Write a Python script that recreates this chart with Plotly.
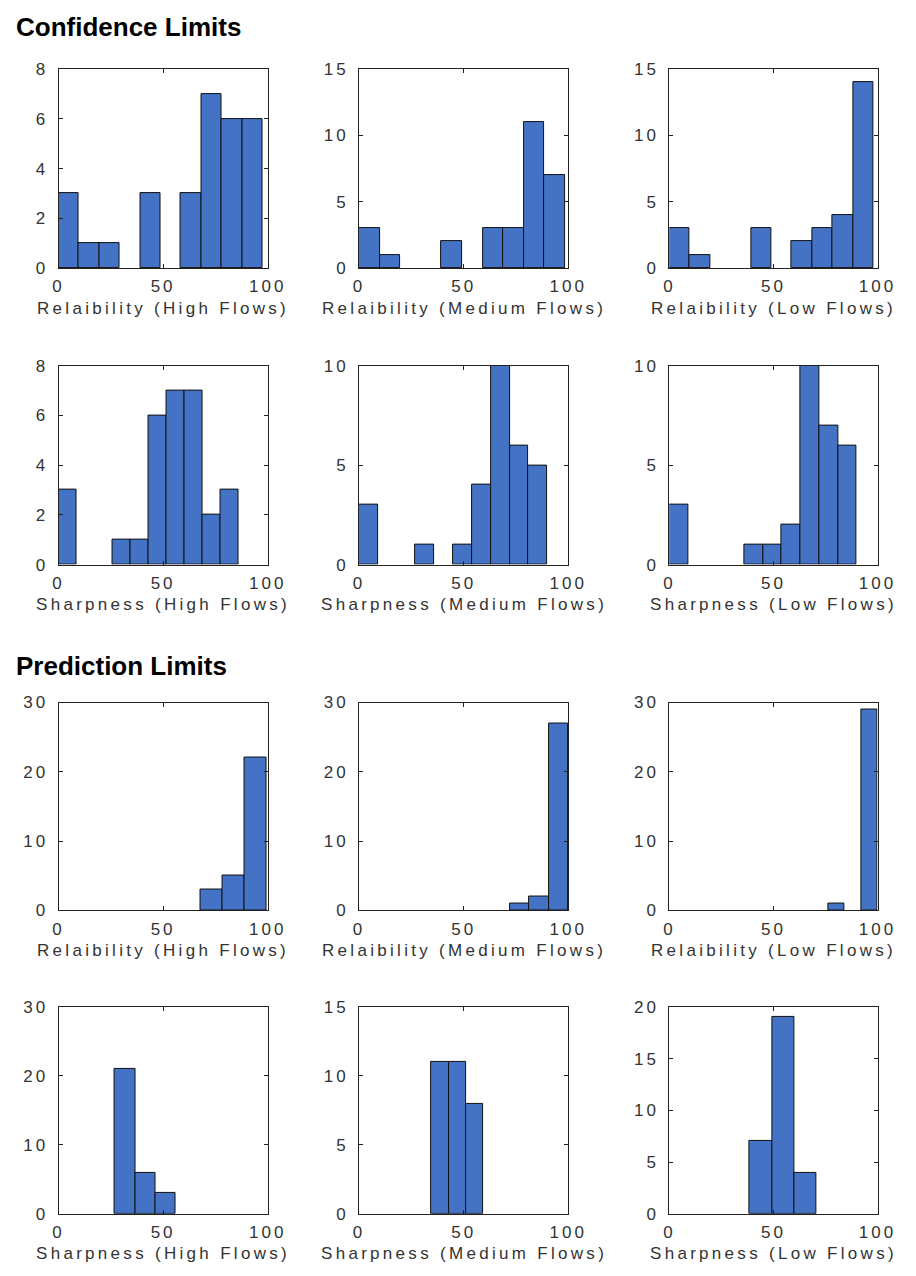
import plotly.graph_objects as go

# ---- histogram data: counts per bin, first bin left edge, bin width ----
# Confidence limits
cl_rel_high_counts = [3, 1, 1, 0, 3, 0, 3, 7, 6, 6]
cl_rel_high_bins = (0.0, 9.75)
cl_rel_med_counts = [3, 1, 0, 0, 2, 0, 3, 3, 11, 7]
cl_rel_med_bins = (0.0, 9.85)
cl_rel_low_counts = [3, 1, 0, 0, 3, 0, 2, 3, 4, 14]
cl_rel_low_bins = (0.0, 9.8)
cl_sharp_high_counts = [3, 0, 0, 1, 1, 6, 7, 7, 2, 3]
cl_sharp_high_bins = (0.0, 8.6)
cl_sharp_med_counts = [3, 0, 0, 1, 0, 1, 4, 10, 6, 5]
cl_sharp_med_bins = (0.0, 9.0)
cl_sharp_low_counts = [3, 0, 0, 0, 1, 1, 2, 10, 7, 6]
cl_sharp_low_bins = (0.0, 9.0)

# Prediction limits
pl_rel_high_counts = [3, 5, 22]
pl_rel_high_bins = (67.8, 10.6)
pl_rel_med_counts = [1, 2, 27]
pl_rel_med_bins = (72.1, 9.3)
pl_rel_low_counts = [1, 0, 29]
pl_rel_low_bins = (76.2, 7.95)
pl_sharp_high_counts = [21, 6, 3]
pl_sharp_high_bins = (26.9, 9.7)
pl_sharp_med_counts = [11, 11, 8]
pl_sharp_med_bins = (34.5, 8.3)
pl_sharp_low_counts = [7, 19, 4]
pl_sharp_low_bins = (38.6, 10.7)

# axis labels and y-axis limits / tick steps
x_titles = [
    "Relaibility (High Flows)", "Relaibility (Medium Flows)", "Relaibility (Low Flows)",
    "Sharpness (High Flows)", "Sharpness (Medium Flows)", "Sharpness (Low Flows)",
]
x_ticks = [0, 50, 100]
y_max = [8, 15, 15, 8, 10, 10, 30, 30, 30, 30, 15, 20]
y_step = [2, 5, 5, 2, 5, 5, 10, 10, 10, 10, 5, 5]
section_titles = ["Confidence Limits", "Prediction Limits"]

panels = [
    (cl_rel_high_counts, cl_rel_high_bins),
    (cl_rel_med_counts, cl_rel_med_bins),
    (cl_rel_low_counts, cl_rel_low_bins),
    (cl_sharp_high_counts, cl_sharp_high_bins),
    (cl_sharp_med_counts, cl_sharp_med_bins),
    (cl_sharp_low_counts, cl_sharp_low_bins),
    (pl_rel_high_counts, pl_rel_high_bins),
    (pl_rel_med_counts, pl_rel_med_bins),
    (pl_rel_low_counts, pl_rel_low_bins),
    (pl_sharp_high_counts, pl_sharp_high_bins),
    (pl_sharp_med_counts, pl_sharp_med_bins),
    (pl_sharp_low_counts, pl_sharp_low_bins),
]

# ---- page geometry (pixels) ----
W, H = 916, 1276
COLS = [(54, 269), (363, 578), (682, 896)]
ROWS = [(61, 263), (362, 564), (704, 915), (1013, 1223)]
SECTION_Y = [18, 667]

FILL = "#4472C4"
TEXT = "#333333"
FONT = "Liberation Sans, Arial, sans-serif"


def spaced(s, ls):
    return f'<span style="letter-spacing:{ls}px">{s}</span>'


fig = go.Figure()
layout = {}
annotations = []

for i, (counts, (start, width)) in enumerate(panels):
    r, c = divmod(i, 3)
    k = "" if i == 0 else str(i + 1)
    centers, heights = [], []
    for j, n in enumerate(counts):
        if n > 0:
            centers.append(start + (j + 0.5) * width)
            heights.append(n)
    fig.add_trace(go.Bar(
        x=centers, y=heights, width=[width] * len(centers),
        xaxis="x" + k, yaxis="y" + k,
        marker=dict(color=FILL, line=dict(color="#111111", width=1)),
        showlegend=False, hoverinfo="x+y",
    ))

    x0, x1 = COLS[c]
    y0, y1 = ROWS[r]
    yt = list(range(0, y_max[i] + 1, y_step[i]))
    common = dict(
        showline=True, linecolor="#222222", linewidth=1, mirror="ticks",
        ticks="inside", ticklen=4, tickcolor="#222222",
        showgrid=False, zeroline=False,
        tickfont=dict(family=FONT, size=17, color=TEXT),
    )
    layout["xaxis" + k] = dict(
        domain=[x0 / W, x1 / W], range=[0, 100], anchor="y" + k,
        tickvals=x_ticks, ticktext=[spaced(str(v), 3) for v in x_ticks],
        ticklabelstandoff=3, **common,
    )
    layout["yaxis" + k] = dict(
        domain=[1 - y1 / H, 1 - y0 / H], range=[0, y_max[i]], anchor="x" + k,
        tickvals=yt, ticktext=[spaced(str(v), 3) for v in yt],
        ticklabelstandoff=6, **common,
    )
    annotations.append(dict(
        text=spaced(x_titles[i % 6], 3.3),
        xref="x" + k + " domain", yref="y" + k + " domain",
        x=0.5, y=0, xanchor="center", yanchor="middle", yshift=-40,
        showarrow=False, font=dict(family=FONT, size=17, color=TEXT),
    ))

for title, ty in zip(section_titles, SECTION_Y):
    annotations.append(dict(
        text=title, xref="paper", yref="paper",
        x=8 / W, y=1 - ty / H, xanchor="left", yanchor="middle",
        showarrow=False,
        font=dict(family=FONT, size=26, color="#000000", weight="bold"),
    ))

fig.update_layout(
    width=W, height=H,
    margin=dict(l=0, r=0, t=0, b=0),
    paper_bgcolor="white", plot_bgcolor="white",
    bargap=0,
    annotations=annotations,
    **layout,
)

# the page body gets no default margin so the figure starts at the corner
fig.write_html("out.html", post_script="document.body.style.margin = '0px';")
